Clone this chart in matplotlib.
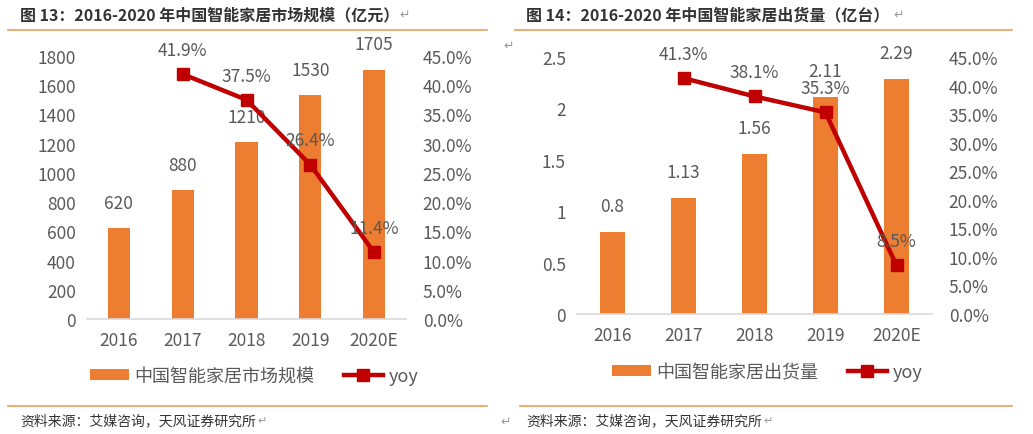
import numpy as np
import matplotlib
matplotlib.use("Agg")
import matplotlib.pyplot as plt
from matplotlib.ticker import FuncFormatter

plt.rcParams['font.family'] = ['Noto Sans CJK SC', 'DejaVu Sans']

# 数据
years = ['2016', '2017', '2018', '2019', '2020E']
market_size = [620, 880, 1210, 1530, 1705]          # 亿元
market_yoy = [np.nan, 41.9, 37.5, 26.4, 11.4]        # %
shipments = [0.8, 1.13, 1.56, 2.11, 2.29]            # 亿台
shipment_yoy = [np.nan, 41.3, 38.1, 35.3, 8.5]       # %
size_labels = ['620', '880', '1210', '1530', '1705']
ship_labels = ['0.8', '1.13', '1.56', '2.11', '2.29']

W, H = 1033, 435
BAR = '#ED7D31'
RED = '#C00000'
GRAY = '#595959'
ORANGE_LINE = '#E8A15E'

fig = plt.figure(figsize=(W / 100, H / 100), dpi=100)


def box(x0, x1, ytop, ybot):
    return [x0 / W, 1 - ybot / H, (x1 - x0) / W, (ybot - ytop) / H]


def hline(x0, x1, y):
    fig.add_artist(plt.Line2D([x0 / W, x1 / W], [1 - y / H, 1 - y / H],
                              color=ORANGE_LINE, lw=1.2))


def panel(rect, vals, vlabels, yoy, ymax, ystep, yfmt, legname, leg_xy):
    ax = fig.add_axes(rect)
    x = np.arange(len(years))
    bars = ax.bar(x, vals, width=0.35, color=BAR, zorder=2, label=legname)
    ax.set_xlim(-0.5, len(years) - 0.5)
    ax.set_ylim(0, ymax)
    ax.set_yticks(np.arange(0, ymax + ystep / 2, ystep))
    ax.yaxis.set_major_formatter(FuncFormatter(yfmt))
    ax.set_xticks(x)
    ax.set_xticklabels(years)
    for s in ['top', 'left', 'right']:
        ax.spines[s].set_visible(False)
    ax.spines['bottom'].set_color('#D9D9D9')
    ax.spines['bottom'].set_linewidth(1.2)
    ax.tick_params(length=0, labelsize=12.5, colors=GRAY, pad=8)
    ax.tick_params(axis='x', pad=9)
    for xi, v, t in zip(x, vals, vlabels):
        ax.annotate(t, (xi, v), xytext=(0, 12), textcoords='offset points',
                    ha='center', va='bottom', fontsize=12.5, color=GRAY)

    ax2 = ax.twinx()
    ax2.set_ylim(0, 0.45)
    ax2.set_yticks(np.arange(0, 0.451, 0.05))
    ax2.yaxis.set_major_formatter(FuncFormatter(lambda v, p: f'{v * 100:.1f}%'))
    for s in ['top', 'left', 'right', 'bottom']:
        ax2.spines[s].set_visible(False)
    ax2.tick_params(length=0, labelsize=12.5, colors=GRAY, pad=12)
    yv = np.array(yoy) / 100
    line, = ax2.plot(x, yv, color=RED, lw=3.2, marker='s', markersize=9,
                     zorder=3, label='yoy')
    for xi, v in zip(x, yv):
        if not np.isnan(v):
            ax2.annotate(f'{v * 100:.1f}%', (xi, v), xytext=(0, 11),
                         textcoords='offset points', ha='center', va='bottom',
                         fontsize=12.5, color=GRAY, zorder=4)
    fig.legend(handles=[bars, line], loc='center',
               bbox_to_anchor=(leg_xy[0] / W, 1 - leg_xy[1] / H),
               ncol=2, frameon=False, fontsize=13, handlelength=2.2,
               handleheight=0.6, handletextpad=0.3, columnspacing=1.6,
               labelcolor=GRAY)
    return ax, ax2


panel(box(87, 406, 57, 320), market_size, size_labels, market_yoy, 1800, 200,
      lambda v, p: f'{v:.0f}', '中国智能家居市场规模', (254, 377))
panel(box(577, 932, 58, 315), shipments, ship_labels, shipment_yoy, 2.5, 0.5,
      lambda v, p: f'{v:g}', '中国智能家居出货量', (767, 373))

# 标题
fig.text(20 / W, 1 - 15 / H, '图 13：2016-2020 年中国智能家居市场规模（亿元）',
         fontsize=11.5, fontweight='bold', color='#333333', va='center')
fig.text(399 / W, 1 - 15 / H, '↵', fontsize=9, color='#999999', va='center')
fig.text(526 / W, 1 - 15 / H, '图 14：2016-2020 年中国智能家居出货量（亿台）',
         fontsize=11.5, fontweight='bold', color='#333333', va='center')
fig.text(893 / W, 1 - 15 / H, '↵', fontsize=9, color='#999999', va='center')
fig.text(503 / W, 1 - 46 / H, '↵', fontsize=9, color='#999999', va='center')

hline(8, 487, 31)
hline(515, 1012, 31)
hline(8, 487, 407)
hline(520, 1012, 407)

# 来源
fig.text(20 / W, 1 - 421 / H, '资料来源：艾媒咨询，天风证券研究所', fontsize=10,
         color='#333333', va='center')
fig.text(257 / W, 1 - 421 / H, '↵', fontsize=8, color='#999999', va='center')
fig.text(526 / W, 1 - 421 / H, '资料来源：艾媒咨询，天风证券研究所', fontsize=10,
         color='#333333', va='center')
fig.text(763 / W, 1 - 421 / H, '↵', fontsize=8, color='#999999', va='center')
fig.text(500 / W, 1 - 422 / H, '↵', fontsize=9, color='#999999', va='center')

fig.savefig('out.png', dpi=100)
